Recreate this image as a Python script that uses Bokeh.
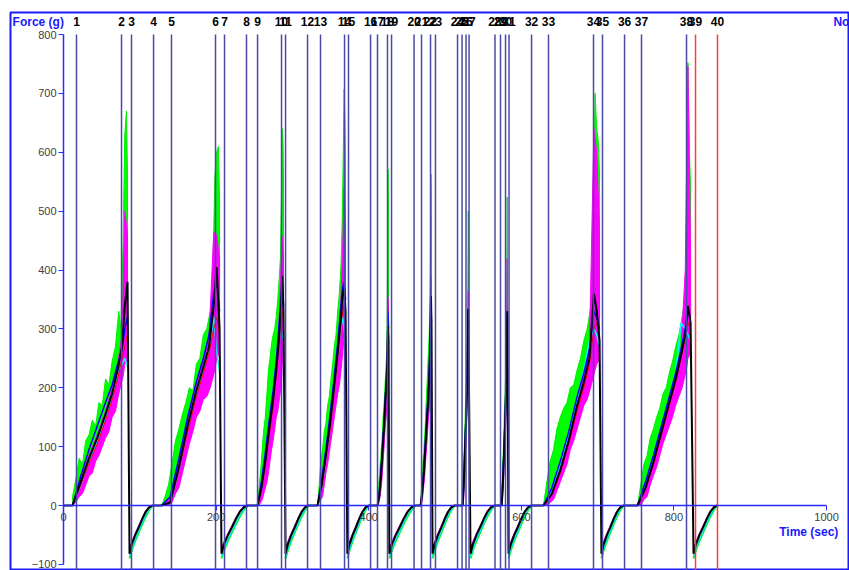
from bokeh.plotting import figure
from bokeh.models import LinearAxis, FixedTicker, ColumnDataSource
from bokeh.core.properties import value
from bokeh.embed import file_html
from bokeh.resources import INLINE

# ---------------- data ----------------
x_ticks = [0, 200, 400, 600, 800, 1000]
y_ticks = [-100, 0, 100, 200, 300, 400, 500, 600, 700, 800]

marker_labels = [str(i) for i in range(1, 41)]
marker_t = [17.0, 76.0, 89.1, 118.0, 141.5, 199.2, 211.0, 239.8, 254.3, 285.7,
            291.0, 319.8, 336.8, 368.3, 373.5, 402.4, 411.5, 424.6, 429.9, 459.4,
            469.2, 481.0, 487.5, 516.4, 522.3, 527.5, 531.5, 565.5, 572.7, 579.3,
            583.9, 613.4, 635.6, 694.6, 706.4, 735.3, 757.5, 816.5, 828.3, 857.1]
marker_color = ["#4a4aa6"] * 38 + ["#ff3b3b"] * 2

# compression phase: start / peak time of each of the 10 cycles
comp_start = [11.8, 128.4, 254.3, 332.9, 411.5, 467.9, 523.0, 574.0, 629.0, 752.3]
comp_peak = [83.9, 204.5, 288.3, 369.6, 426.0, 482.3, 530.8, 581.9, 702.5, 821.8]
# retraction phase: start (minimum) / end (back to 0)
ret_start = [86.5, 207.0, 291.0, 372.0, 427.0, 483.6, 533.4, 583.2, 705.0, 825.7]
ret_end = [116.6, 241.2, 321.0, 400.0, 461.0, 512.5, 564.9, 613.4, 734.0, 857.0]

# sampling positions within each phase (fraction of the phase)
comp_frac = [0, 0.15, 0.3, 0.45, 0.6, 0.72, 0.82, 0.9, 0.95, 1.0]
fine_frac = [0, 0.06, 0.12, 0.18, 0.24, 0.3, 0.36, 0.42, 0.48, 0.54,
             0.6, 0.66, 0.72, 0.78, 0.84, 0.88, 0.92, 0.95, 0.98, 1.0]
ret_frac = [0, 0.1, 0.25, 0.4, 0.55, 0.7, 0.85, 1.0]

black_comp = [
    [0, 40, 80, 115, 155, 190, 230, 270, 340, 380],
    [0, 5, 65, 135, 195, 235, 270, 340, 405, 300],
    [0, 30, 75, 130, 180, 230, 280, 330, 390, 330],
    [0, 35, 85, 140, 205, 260, 310, 360, 370, 330],
    [0, 15, 45, 90, 135, 180, 210, 250, 305, 280],
    [0, 20, 55, 100, 150, 180, 230, 290, 356, 300],
    [0, 25, 60, 105, 150, 190, 230, 290, 334, 290],
    [0, 20, 55, 95, 140, 180, 220, 280, 330, 290],
    [0, 20, 60, 110, 170, 210, 250, 360, 330, 280],
    [0, 30, 74, 125, 175, 215, 255, 290, 339, 311],
]
# upper (noisy) edge of the green trace, on fine_frac
green_hi = [
    [15, 45, 80, 70, 110, 120, 145, 135, 175, 170, 215, 205, 245, 270, 330, 300, 450, 630, 670, 560],
    [0, 15, 35, 70, 110, 130, 155, 175, 200, 195, 240, 250, 290, 300, 330, 380, 560, 600, 610, 520],
    [0, 30, 60, 95, 130, 150, 190, 230, 250, 275, 290, 300, 320, 350, 390, 420, 520, 640, 620, 560],
    [0, 35, 75, 95, 125, 140, 170, 185, 215, 240, 270, 290, 330, 360, 410, 480, 600, 707, 650, 560],
    [0, 15, 35, 50, 70, 80, 100, 115, 140, 160, 175, 195, 220, 240, 265, 330, 450, 571, 540, 480],
    [0, 20, 40, 55, 80, 90, 115, 130, 160, 185, 210, 235, 266, 285, 330, 380, 480, 563, 530, 460],
    [0, 20, 45, 60, 90, 100, 125, 140, 170, 185, 200, 225, 250, 270, 310, 360, 440, 500, 480, 420],
    [0, 20, 40, 55, 80, 90, 115, 130, 160, 175, 190, 215, 237, 265, 310, 370, 450, 524, 500, 440],
    [0, 40, 75, 95, 130, 150, 165, 175, 200, 205, 230, 250, 280, 300, 335, 420, 700, 640, 617, 560],
    [0, 35, 70, 85, 115, 130, 150, 165, 190, 200, 225, 245, 270, 290, 320, 345, 380, 752, 600, 537],
]
# lower (noisy) edge of the magenta trace, on fine_frac
magenta_lo = [
    [0, 5, 15, 20, 35, 50, 55, 75, 85, 100, 115, 125, 150, 160, 190, 205, 220, 240, 245, 260],
    [0, 0, 0, 5, 20, 30, 55, 80, 105, 125, 150, 160, 180, 185, 200, 215, 230, 250, 255, 260],
    [0, 0, 5, 10, 20, 30, 40, 55, 75, 95, 110, 130, 150, 160, 180, 195, 210, 240, 245, 250],
    [0, 5, 10, 15, 35, 55, 70, 90, 110, 130, 150, 170, 190, 205, 230, 250, 270, 290, 295, 300],
    [0, 0, 5, 10, 15, 25, 35, 50, 65, 85, 100, 120, 140, 150, 170, 185, 200, 220, 230, 240],
    [0, 0, 5, 10, 25, 35, 45, 60, 80, 95, 110, 130, 150, 160, 180, 200, 220, 250, 255, 260],
    [0, 0, 5, 10, 25, 40, 50, 65, 85, 100, 110, 130, 150, 160, 180, 200, 220, 240, 245, 250],
    [0, 0, 5, 10, 25, 35, 45, 60, 80, 95, 105, 120, 140, 155, 180, 200, 220, 240, 245, 250],
    [0, 0, 5, 10, 25, 40, 55, 70, 95, 110, 130, 150, 170, 180, 200, 215, 230, 240, 245, 250],
    [0, 0, 10, 15, 35, 51, 65, 85, 105, 120, 135, 150, 170, 185, 200, 215, 230, 250, 255, 260],
]
# upper edge of the magenta trace, on comp_frac
magenta_hi = [
    [0, 45, 85, 120, 160, 200, 240, 290, 500, 460],
    [0, 15, 75, 145, 205, 245, 290, 464, 460, 420],
    [0, 40, 85, 140, 190, 240, 300, 400, 457, 420],
    [0, 45, 95, 150, 215, 270, 330, 441, 540, 480],
    [0, 20, 55, 100, 145, 190, 220, 280, 354, 320],
    [0, 25, 65, 110, 160, 205, 245, 320, 390, 340],
    [0, 30, 70, 115, 160, 200, 240, 310, 364, 320],
    [0, 25, 65, 105, 150, 190, 235, 340, 419, 360],
    [0, 30, 70, 120, 180, 220, 270, 640, 600, 470],
    [0, 40, 84, 135, 185, 225, 265, 400, 746, 435],
]
blue_comp = [
    [0, 50, 95, 135, 175, 205, 240, 265, 300, 320],
    [0, 15, 80, 150, 210, 250, 290, 360, 380, 330],
    [0, 40, 90, 145, 195, 245, 300, 350, 380, 340],
    [0, 45, 95, 155, 220, 275, 330, 370, 380, 350],
    [0, 20, 55, 100, 145, 190, 220, 270, 330, 300],
    [0, 25, 65, 110, 160, 205, 245, 300, 340, 310],
    [0, 30, 70, 115, 160, 200, 240, 300, 330, 300],
    [0, 25, 65, 105, 150, 190, 230, 290, 330, 300],
    [0, 30, 75, 125, 185, 225, 265, 330, 320, 300],
    [0, 40, 85, 135, 185, 225, 265, 300, 330, 320],
]
cyan_comp = [
    [0, 35, 75, 110, 150, 185, 225, 240, 250, 235],
    [0, 5, 60, 130, 190, 230, 265, 320, 260, 227],
    [0, 30, 75, 130, 180, 230, 280, 300, 290, 280],
    [0, 30, 80, 135, 200, 255, 300, 320, 300, 280],
    [0, 15, 45, 90, 135, 175, 205, 240, 270, 260],
    [0, 20, 55, 100, 150, 190, 225, 270, 290, 270],
    [0, 25, 60, 105, 150, 180, 200, 240, 260, 250],
    [0, 20, 55, 95, 140, 175, 215, 260, 280, 260],
    [0, 25, 70, 120, 180, 230, 280, 300, 290, 270],
    [0, 35, 80, 130, 180, 225, 310, 300, 290, 280],
]
red_comp = [
    [0, 35, 72, 105, 145, 180, 215, 250, 270, 290],
    [0, 5, 60, 125, 185, 225, 260, 300, 320, 290],
    [0, 28, 70, 120, 170, 220, 270, 310, 330, 310],
    [0, 30, 80, 130, 195, 250, 300, 330, 340, 320],
    [0, 12, 40, 85, 130, 170, 200, 240, 280, 270],
    [0, 18, 50, 95, 145, 185, 220, 270, 300, 280],
    [0, 22, 55, 100, 145, 185, 220, 260, 290, 280],
    [0, 18, 50, 90, 135, 175, 210, 260, 290, 280],
    [0, 18, 55, 105, 160, 200, 240, 300, 310, 290],
    [0, 28, 70, 120, 170, 210, 250, 285, 310, 300],
]
# retraction curves (force back to 0)
black_ret = [-82, -66, -50, -37, -23, -11, -3, 0]
green_ret = [-90, -76, -60, -46, -32, -19, -8, 0]
magenta_ret = [-72, -62, -48, -35, -22, -10, -3, 0]
cyan_ret = [-88, -74, -58, -44, -30, -17, -6, 0]

# ---------------- figure ----------------
p = figure(width=849, height=570, x_range=(-69.5, 1028.8), y_range=(-110.4, 837.4),
           output_backend="svg", toolbar_location=None,
           x_axis_type=None, y_axis_type=None,
           min_border_left=10, min_border_right=1, min_border_top=12, min_border_bottom=0)
p.grid.visible = False
p.outline_line_color = "#1a1aff"
p.outline_line_width = 2
p.background_fill_color = "white"
p.border_fill_color = "white"

n = len(comp_start)


def phase_times(i, fracs):
    return [comp_start[i] + f * (comp_peak[i] - comp_start[i]) for f in fracs]


def ret_times(i):
    return [ret_start[i] + f * (ret_end[i] - ret_start[i]) for f in ret_frac]


# green and magenta bands
gx, gy, mx, my = [], [], [], []
for i in range(n):
    ct = phase_times(i, comp_frac)
    ft = phase_times(i, fine_frac)
    gx.append(ft + ct[::-1])
    gy.append(green_hi[i] + black_comp[i][::-1])
    mx.append(ct + ft[::-1])
    my.append(magenta_hi[i] + magenta_lo[i][::-1])
p.patches(gx, gy, fill_color="#00ff00", line_color="#00ee00", line_width=1)
p.patches(mx, my, fill_color="#ff00ff", line_color="#ff00ff", line_width=1)

# retraction lines
for vals, col, w in [(green_ret, "#00ff00", 2), (cyan_ret, "#00e5e5", 1.5), (magenta_ret, "#ff00ff", 1.5)]:
    xs = [ret_times(i) for i in range(n)]
    ys = [vals for i in range(n)]
    p.multi_line(xs, ys, line_color=col, line_width=w)

# compression lines
for series, col, w in [(cyan_comp, "#00ffff", 1.5), (blue_comp, "#0000ff", 1.5), (red_comp, "#ff0000", 1)]:
    p.multi_line([phase_times(i, comp_frac) for i in range(n)], series, line_color=col, line_width=w)

# black full trace
bx, by = [0.0], [0.0]
for i in range(n):
    bx += phase_times(i, comp_frac)
    by += black_comp[i]
    bx += ret_times(i)
    by += black_ret
p.line(bx, by, line_color="black", line_width=2)

# marker lines
msrc = ColumnDataSource(dict(x=marker_t, y0=[800] * 40, y1=[-115] * 40,
                             c=marker_color, lab=marker_labels,
                             ly=[822] * 40))
p.segment(x0="x", y0="y0", x1="x", y1="y1", line_color="c", line_width=1.5, source=msrc)
p.text(x="x", y="ly", text="lab", source=msrc, text_align="center", text_baseline="middle",
       text_font=value("Liberation Sans"), text_font_style="bold", text_font_size="12px",
       text_color="black")

# header / axis titles
p.text(x=[-66.8], y=[822], text=["Force (g)"], text_align="left", text_baseline="middle",
       text_font=value("Liberation Sans"), text_font_style="bold", text_font_size="12px",
       text_color="#1a1aff")
p.text(x=[1009], y=[822], text=["No"], text_align="left", text_baseline="middle",
       text_font=value("Liberation Sans"), text_font_style="bold", text_font_size="12px",
       text_color="#1a1aff")
p.text(x=[1015.5], y=[-45], text=["Time (sec)"], text_align="right", text_baseline="middle",
       text_font=value("Liberation Sans"), text_font_style="bold", text_font_size="12px",
       text_color="#1a1aff")

# axes crossing at the origin
xaxis = LinearAxis(fixed_location=0, ticker=FixedTicker(ticks=x_ticks), bounds=(0, 1000))
yaxis = LinearAxis(fixed_location=0, ticker=FixedTicker(ticks=y_ticks), bounds=(-100, 800))
for ax in (xaxis, yaxis):
    ax.axis_line_color = "#2a2aff"
    ax.axis_line_width = 1.5
    ax.major_tick_line_color = "#2a2aff"
    ax.major_tick_in = 0
    ax.major_tick_out = 5
    ax.minor_tick_line_color = None
    ax.major_label_text_font = "Liberation Sans"
    ax.major_label_text_font_size = "11px"
    ax.major_label_text_color = "#404040"
    ax.major_label_standoff = 2
p.add_layout(xaxis, "below")
p.add_layout(yaxis, "left")

open("out.html", "w").write(file_html(p, INLINE))
